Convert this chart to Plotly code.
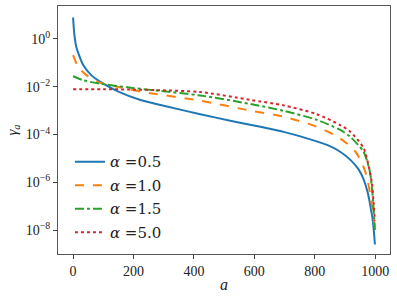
import plotly.graph_objects as go

# alpha = 0.5
a_05 = [0, 3, 6, 10, 17, 34, 61, 100, 150, 223, 300, 421, 520, 620, 700, 785, 850, 884, 917, 945, 961, 975, 983, 992, 996, 999]
g_05 = [7.9, 2.2, 1.0, 5.0e-1, 2.6e-1, 7.9e-2, 3.0e-2, 1.35e-2, 6.3e-3, 2.8e-3, 1.6e-3, 7.1e-4, 3.8e-4, 2.1e-4, 1.26e-4, 6.3e-5, 3.3e-5, 1.9e-5, 8.9e-6, 3.5e-6, 1.4e-6, 3.8e-7, 1.2e-7, 2.5e-8, 7.9e-9, 2.5e-9]

# alpha = 1.0
a_10 = [0, 17, 45, 89, 124, 234, 421, 587, 697, 807, 884, 934, 956, 973, 983, 994, 999]
g_10 = [2.1e-1, 6.8e-2, 3.0e-2, 1.48e-2, 1.15e-2, 6.0e-3, 2.6e-3, 1.0e-3, 5.6e-4, 2.1e-4, 6.9e-5, 1.95e-5, 6.3e-6, 1.6e-6, 3.2e-7, 4.0e-8, 1.1e-8]

# alpha = 1.5
a_15 = [0, 34, 89, 179, 278, 421, 587, 697, 807, 884, 917, 961, 973, 983, 991, 996, 999]
g_15 = [2.75e-2, 1.86e-2, 1.35e-2, 9.5e-3, 6.9e-3, 4.3e-3, 1.9e-3, 9.8e-4, 4.1e-4, 1.55e-4, 8.1e-5, 1.95e-5, 7.9e-6, 2.5e-6, 3.2e-7, 4.0e-8, 1.0e-8]

# alpha = 5.0
a_50 = [0, 100, 200, 278, 421, 587, 697, 807, 884, 917, 961, 978, 989, 994, 999]
g_50 = [7.9e-3, 7.9e-3, 7.6e-3, 7.2e-3, 6.0e-3, 2.8e-3, 1.66e-3, 7.1e-4, 2.5e-4, 1.32e-4, 2.8e-5, 5.0e-6, 9.1e-7, 1.8e-7, 2.5e-8]

series = [
    ("<i>α</i> =0.5", a_05, g_05, "#1f77b4", "solid"),
    ("<i>α</i> =1.0", a_10, g_10, "#ff7f0e", "dash"),
    ("<i>α</i> =1.5", a_15, g_15, "#2ca02c", "dashdot"),
    ("<i>α</i> =5.0", a_50, g_50, "#d62728", "dot"),
]

x_ticks = [0, 200, 400, 600, 800, 1000]
y_ticks = [1, 1e-2, 1e-4, 1e-6, 1e-8]
y_ticktext = ["10<sup>0</sup>", "10<sup>−2</sup>", "10<sup>−4</sup>", "10<sup>−6</sup>", "10<sup>−8</sup>"]

fig = go.Figure()
for i, (name, xs, ys, col, dash) in enumerate(series):
    fig.add_trace(go.Scatter(
        x=xs, y=ys, mode="lines", name=name, legendgroup=str(i),
        line=dict(color=col, width=2, dash=dash, shape="spline", smoothing=0.8),
    ))

font = "Liberation Serif"
fig.update_layout(
    width=397, height=299,
    margin=dict(l=58, r=7, t=6, b=45, autoexpand=False),
    paper_bgcolor="white", plot_bgcolor="white",
    font=dict(family=font, size=14, color="#222"),
    showlegend=True,
    legend=dict(x=0.036, y=0.438, xanchor="left", yanchor="top",
                bgcolor="rgba(255,255,255,0)", font=dict(size=15, family="DejaVu Serif"),
                tracegroupgap=1),
    xaxis=dict(range=[-49.95, 1048.95], tickvals=x_ticks, ticks="outside", ticklen=4,
               tickcolor="#444", showline=True, linecolor="#555", linewidth=1, mirror=True,
               showgrid=False, zeroline=False, automargin=False,
               title=dict(text="<i>a</i>", font=dict(size=16), standoff=1)),
    yaxis=dict(type="log", range=[-9.0, 1.38], tickvals=y_ticks, ticktext=y_ticktext,
               ticks="outside", ticklen=4, tickcolor="#444", showline=True, linecolor="#555",
               linewidth=1, mirror=True, showgrid=False, zeroline=False, automargin=False,
               title=dict(text="<i>γ<sub>a</sub></i>", font=dict(size=15), standoff=4)),
)

fig.write_html("out.html", config={"displayModeBar": False},
               post_script="document.body.style.margin='0';document.body.style.overflow='hidden';")
